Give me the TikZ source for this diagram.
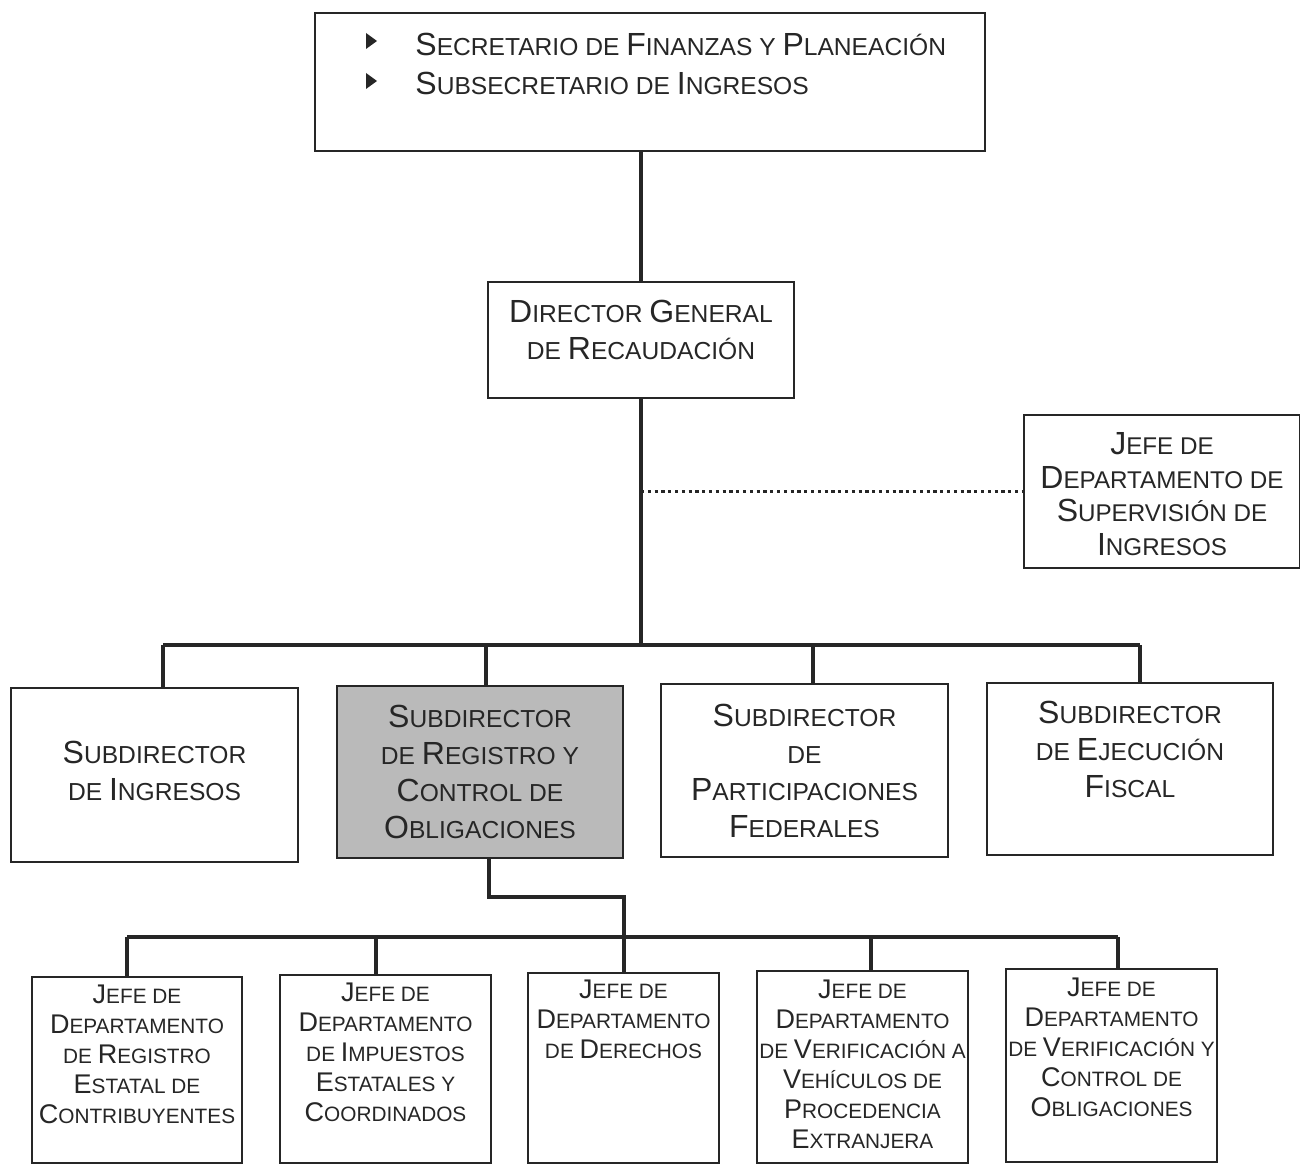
\documentclass[tikz,border=0pt]{standalone}
\usepackage{fontspec}
\setmainfont{Liberation Sans}
\usetikzlibrary{fit}
\newcommand\BK[1]{{\fontsize{16}{18.5}\selectfont #1}}
\newcommand\SK[1]{{\fontsize{13.5}{15}\selectfont #1}}
\begin{document}
\begin{tikzpicture}[x=0.5pt,y=-0.5pt,
  box/.style={draw=black!85, line width=1pt, inner sep=0pt},
  link/.style={draw=black!85, line width=1.6pt},
  toptxt/.style={text=black!85, font=\fontsize{12.3}{18.5}\selectfont, inner sep=0pt, anchor=base west},
  midtxt/.style={text=black!85, font=\fontsize{12.3}{18.5}\selectfont, align=center, inner sep=0pt, anchor=north},
  suptxt/.style={text=black!85, font=\fontsize{12.1}{16.8}\selectfont, align=center, inner sep=0pt, anchor=north},
  lowtxt/.style={text=black!85, font=\fontsize{10.4}{15}\selectfont, align=center, inner sep=0pt, anchor=north}]
\useasboundingbox (0,0) rectangle (1300,1165);
\fill[white] (0,0) rectangle (1300,1165);

% boxes
\node[box, fit={(315,13) (985,151)}] (top) {};
\node[box, fit={(488,282) (794,398)}] (dir) {};
\node[box, fit={(1024,415) (1300,568)}] (sup) {};
\node[box, fit={(11,688) (298,862)}] (s1) {};
\node[box, fill=black!27, fit={(337,686) (623,858)}] (s2) {};
\node[box, fit={(661,684) (948,857)}] (s3) {};
\node[box, fit={(987,683) (1273,855)}] (s4) {};
\node[box, fit={(32,977) (242,1163)}] (b1) {};
\node[box, fit={(280,975) (491,1163)}] (b2) {};
\node[box, fit={(528,973) (719,1163)}] (b3) {};
\node[box, fit={(757,971) (968,1163)}] (b4) {};
\node[box, fit={(1006,969) (1217,1162)}] (b5) {};

% top box text
\fill[black!85] (366,33) -- (377,41) -- (366,49) -- cycle;
\fill[black!85] (366,73) -- (377,81) -- (366,89) -- cycle;
\node[toptxt] (t1) at (415,56) {\BK{S}ECRETARIO DE \BK{F}INANZAS Y \BK{P}LANEACIÓN};
\node[toptxt] (t2) at (415,95) {\BK{S}UBSECRETARIO DE \BK{I}NGRESOS};

\node[midtxt] (dirt) at (641,300) {\BK{D}IRECTOR \BK{G}ENERAL\\DE \BK{R}ECAUDACIÓN};
\node[suptxt] (supt) at (1162,432) {\BK{J}EFE DE\\\BK{D}EPARTAMENTO DE\\\BK{S}UPERVISIÓN DE\\\BK{I}NGRESOS};
\node[midtxt] (s1t) at (154.5,741) {\BK{S}UBDIRECTOR\\DE \BK{I}NGRESOS};
\node[midtxt] (s2t) at (480,705) {\BK{S}UBDIRECTOR\\DE \BK{R}EGISTRO Y\\\BK{C}ONTROL DE\\\BK{O}BLIGACIONES};
\node[midtxt] (s3t) at (804.5,704) {\BK{S}UBDIRECTOR\\DE\\\BK{P}ARTICIPACIONES\\\BK{F}EDERALES};
\node[midtxt] (s4t) at (1130,701) {\BK{S}UBDIRECTOR\\DE \BK{E}JECUCIÓN\\\BK{F}ISCAL};

\node[lowtxt] (b1t) at (137,985) {\SK{J}EFE DE\\\SK{D}EPARTAMENTO\\DE \SK{R}EGISTRO\\\SK{E}STATAL DE\\\SK{C}ONTRIBUYENTES};
\node[lowtxt] (b2t) at (385.5,983) {\SK{J}EFE DE\\\SK{D}EPARTAMENTO\\DE \SK{I}MPUESTOS\\\SK{E}STATALES Y\\\SK{C}OORDINADOS};
\node[lowtxt] (b3t) at (623.5,980) {\SK{J}EFE DE\\\SK{D}EPARTAMENTO\\DE \SK{D}ERECHOS};
\node[lowtxt] (b4t) at (862.5,980) {\SK{J}EFE DE\\\SK{D}EPARTAMENTO\\DE \SK{V}ERIFICACIÓN A\\\SK{V}EHÍCULOS DE\\\SK{P}ROCEDENCIA\\\SK{E}XTRANJERA};
\node[lowtxt] (b5t) at (1111.5,978) {\SK{J}EFE DE\\\SK{D}EPARTAMENTO\\DE \SK{V}ERIFICACIÓN Y\\\SK{C}ONTROL DE\\\SK{O}BLIGACIONES};

% connectors
\coordinate (busA) at (641,645);
\coordinate (c1) at (163,645);
\coordinate (c2) at (486,645);
\coordinate (c3) at (813,645);
\coordinate (c4) at (1140,645);
\draw[link] (dir.north) -- (dir.north |- top.south);
\draw[link] (dir.south) -- (busA);
\draw[link] (c1) -- (c4);
\draw[link] (c1) -- (c1 |- s1.north);
\draw[link] (c2) -- (c2 |- s2.north);
\draw[link] (c3) -- (c3 |- s3.north);
\draw[link] (c4) -- (c4 |- s4.north);
\draw[black!85, line width=1.8pt, dash pattern=on 1.6pt off 1.8pt] (sup.west -| dir.south) -- (sup.west);

\coordinate (d0) at (489,858);
\coordinate (d1) at (489,897);
\coordinate (d2) at (624,897);
\coordinate (e1) at (127,937);
\coordinate (e2) at (376,937);
\coordinate (e3) at (624,937);
\coordinate (e4) at (871,937);
\coordinate (e5) at (1118,937);
\draw[link] (d0) -- (d1) -- (d2) -- (e3);
\draw[link] (e1) -- (e5);
\draw[link] (e1) -- (e1 |- b1.north);
\draw[link] (e2) -- (e2 |- b2.north);
\draw[link] (e3) -- (e3 |- b3.north);
\draw[link] (e4) -- (e4 |- b4.north);
\draw[link] (e5) -- (e5 |- b5.north);
\end{tikzpicture}
\end{document}
